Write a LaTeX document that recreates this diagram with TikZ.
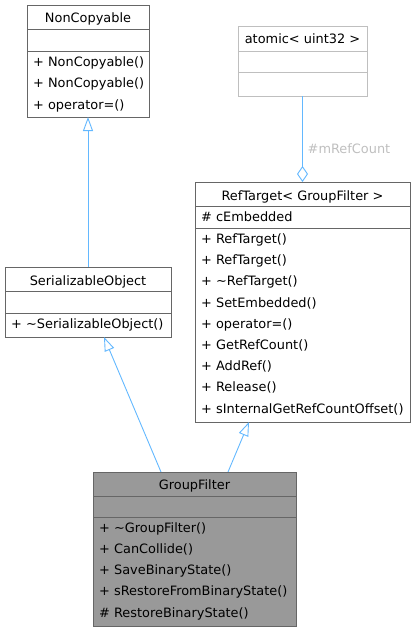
\documentclass[tikz,border=0pt]{standalone}
\usepackage{fontspec}
\setmainfont{DejaVu Sans}
\usetikzlibrary{arrows.meta}
\definecolor{edgeblue}{HTML}{63B8FF}
\definecolor{bordergrey}{HTML}{666666}
\definecolor{lightborder}{HTML}{BFBFBF}
\definecolor{fillgrey}{HTML}{999999}
\tikzset{
  classbox/.style={draw=bordergrey, line width=0.9pt, fill=white, anchor=north west, inner sep=0pt, outer sep=0pt},
  sepline/.style={draw=bordergrey, line width=0.9pt},
  ttl/.style={anchor=base, inner sep=0pt, font=\fontsize{12.9}{15}\selectfont},
  mem/.style={anchor=base west, inner sep=0pt, font=\fontsize{12.9}{15}\selectfont},
  inh/.style={draw=edgeblue, line width=0.9pt, -{Triangle[open, length=14pt, width=10pt, fill=white]}},
  agg/.style={draw=edgeblue, line width=0.9pt, -{Diamond[open, length=16pt, width=11pt, fill=white]}},
  elabel/.style={anchor=base west, inner sep=0pt, text=lightborder, font=\fontsize{12.9}{15}\selectfont},
}
\begin{document}
\begin{tikzpicture}[x=1pt, y=-1pt]
\useasboundingbox (0,0) rectangle (415,632);

% NonCopyable
\node[classbox, minimum width=122pt, minimum height=112pt] (nc) at (27,5) {};
\draw[sepline] (27,29) -- (149,29) (27,51) -- (149,51);
\node[ttl] (nct) at (88,22.5) {NonCopyable};
\node[mem] (nc1) at (33,66.5) {+ NonCopyable()};
\node[mem] (nc2) at (33,87.7) {+ NonCopyable()};
\node[mem] (nc3) at (33,109) {+ operator=()};

% atomic< uint32 >
\node[classbox, draw=lightborder, minimum width=129pt, minimum height=70pt] (at) at (238,26) {};
\draw[sepline, draw=lightborder] (238,51) -- (367,51) (238,72) -- (367,72);
\node[ttl] (att) at (302.5,43.8) {atomic< uint32 >};

% RefTarget< GroupFilter >
\node[classbox, minimum width=215pt, minimum height=240pt] (rt) at (195,182) {};
\draw[sepline] (195,206) -- (410,206) (195,228) -- (410,228);
\node[ttl] (rtt) at (302.5,200) {RefTarget< GroupFilter >};
\node[mem] (rta) at (201,221) {\# cEmbedded};
\node[mem] (rt1) at (201,243.5) {+ RefTarget()};
\node[mem] (rt2) at (201,264.7) {+ RefTarget()};
\node[mem] (rt3) at (201,285.9) {+ \textasciitilde RefTarget()};
\node[mem] (rt4) at (201,307.1) {+ SetEmbedded()};
\node[mem] (rt5) at (201,328.3) {+ operator=()};
\node[mem] (rt6) at (201,349.5) {+ GetRefCount()};
\node[mem] (rt7) at (201,370.7) {+ AddRef()};
\node[mem] (rt8) at (201,391.9) {+ Release()};
\node[mem] (rt9) at (201,413.1) {+ sInternalGetRefCountOffset()};

% SerializableObject
\node[classbox, minimum width=166pt, minimum height=70pt] (so) at (5,267) {};
\draw[sepline] (5,291) -- (171,291) (5,313) -- (171,313);
\node[ttl] (sot) at (88,285) {SerializableObject};
\node[mem] (so1) at (11,328) {+ \textasciitilde SerializableObject()};

% GroupFilter
\node[classbox, fill=fillgrey, minimum width=203pt, minimum height=154pt] (gf) at (93,472) {};
\draw[sepline] (93,496) -- (296,496) (93,517) -- (296,517);
\node[ttl] (gft) at (194.5,489.5) {GroupFilter};
\node[mem] (gf1) at (99,532) {+ \textasciitilde GroupFilter()};
\node[mem] (gf2) at (99,553.25) {+ CanCollide()};
\node[mem] (gf3) at (99,574.5) {+ SaveBinaryState()};
\node[mem] (gf4) at (99,595.75) {+ sRestoreFromBinaryState()};
\node[mem] (gf5) at (99,617) {\# RestoreBinaryState()};

% connector end points on box borders
\coordinate (gfL) at (161,472);
\coordinate (gfR) at (228,472);
\coordinate (soB) at (104,337);
\coordinate (rtB) at (249,422);

% connectors
\draw[inh] (so.north) -- (nc.south);
\draw[inh] (gfL) -- (soB);
\draw[inh] (gfR) -- (rtB);
\draw[agg] (at.south) -- (rt.north);
\node[elabel] (lbl) at (307.5,153.5) {\#mRefCount};
\end{tikzpicture}
\end{document}
